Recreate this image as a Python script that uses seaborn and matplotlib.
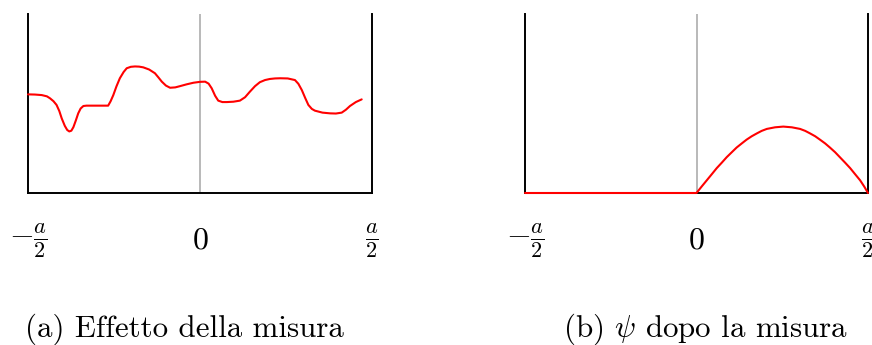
import matplotlib
matplotlib.use("Agg")
import matplotlib.pyplot as plt
import seaborn as sns
import pandas as pd

# Position in units of the box width a (box spans -a/2 .. a/2)
x_before = [-0.500, -0.480, -0.460, -0.445, -0.436, -0.426, -0.417, -0.409, -0.402,
            -0.393, -0.386, -0.380, -0.374, -0.368, -0.361, -0.354, -0.347, -0.339,
            -0.330, -0.267, -0.260, -0.252, -0.243, -0.233, -0.222, -0.213, -0.201,
            -0.189, -0.177, -0.165, -0.148, -0.131, -0.121, -0.111, -0.099, -0.087,
            -0.072, -0.058, -0.039, -0.019, 0.000, 0.015, 0.025, 0.034, 0.044,
            0.053, 0.065, 0.078, 0.097, 0.116, 0.131, 0.145, 0.160, 0.174, 0.189,
            0.203, 0.218, 0.233, 0.255, 0.276, 0.286, 0.296, 0.306, 0.315, 0.325,
            0.334, 0.356, 0.378, 0.395, 0.412, 0.424, 0.436, 0.453, 0.470]
psi_before = [0.551, 0.550, 0.547, 0.540, 0.529, 0.513, 0.492, 0.458, 0.417,
              0.375, 0.352, 0.344, 0.348, 0.368, 0.405, 0.445, 0.472, 0.486,
              0.488, 0.488, 0.512, 0.547, 0.595, 0.641, 0.676, 0.697, 0.705,
              0.707, 0.706, 0.702, 0.690, 0.669, 0.646, 0.622, 0.600, 0.588,
              0.590, 0.597, 0.607, 0.616, 0.621, 0.622, 0.611, 0.585, 0.543,
              0.516, 0.508, 0.508, 0.510, 0.516, 0.535, 0.566, 0.597, 0.619,
              0.631, 0.637, 0.640, 0.641, 0.640, 0.631, 0.610, 0.575, 0.530,
              0.492, 0.470, 0.460, 0.449, 0.445, 0.444, 0.449, 0.465, 0.486,
              0.508, 0.523]

x_after = [-0.500, 0.000, 0.015, 0.030, 0.045, 0.059, 0.074, 0.088, 0.103, 0.117,
           0.132, 0.146, 0.161, 0.176, 0.190, 0.205, 0.229, 0.253, 0.278, 0.302,
           0.317, 0.331, 0.346, 0.360, 0.375, 0.389, 0.404, 0.418, 0.433, 0.448,
           0.462, 0.477, 0.489, 0.500]
psi_after = [0.000, 0.000, 0.036, 0.071, 0.106, 0.139, 0.170, 0.200, 0.228, 0.254,
             0.277, 0.298, 0.317, 0.333, 0.347, 0.358, 0.367, 0.371, 0.367, 0.358,
             0.347, 0.333, 0.317, 0.298, 0.277, 0.254, 0.228, 0.200, 0.170, 0.139,
             0.106, 0.071, 0.036, 0.000]

tick_pos = [-0.5, 0.0, 0.5]
tick_labels = [r"$-\frac{a}{2}$", r"$0$", r"$\frac{a}{2}$"]
captions = ["(a) Effetto della misura", r"(b) $\psi$ dopo la misura"]

sns.set_theme(style="white")
plt.rcParams["mathtext.fontset"] = "cm"
plt.rcParams["axes.unicode_minus"] = False
plt.rcParams["text.color"] = "black"

W, H = 872, 345
fig = plt.figure(figsize=(W / 100, H / 100), dpi=100)

ax_a = fig.add_axes([28 / W, (H - 193) / H, 344 / W, 179 / H])
ax_b = fig.add_axes([525 / W, (H - 193) / H, 343 / W, 179 / H])

frames = [
    pd.DataFrame({"x": x_before, "psi": psi_before}),
    pd.DataFrame({"x": x_after, "psi": psi_after}),
]

for ax, df in zip([ax_a, ax_b], frames):
    ax.set_xlim(-0.5, 0.5)
    ax.set_ylim(0, 1)
    ax.axvline(0, color="#a6a6a6", lw=1.1, zorder=1)
    sns.lineplot(data=df, x="x", y="psi", ax=ax, color="#ff0000", lw=1.5,
                 estimator=None, sort=False, zorder=4, clip_on=False)
    for ln in ax.get_lines()[1:]:
        ln.set_solid_joinstyle("round")
        ln.set_solid_capstyle("round")
    ax.set_xlabel("")
    ax.set_ylabel("")
    ax.set_yticks([])
    ax.set_xticks(tick_pos, labels=tick_labels)
    ax.tick_params(axis="x", length=0, pad=34, labelsize=23, colors="black")
    for lbl in ax.get_xticklabels():
        lbl.set_verticalalignment("center")
    ax.spines["top"].set_visible(False)
    for side in ["left", "right", "bottom"]:
        ax.spines[side].set_visible(True)
        ax.spines[side].set_color("black")
        ax.spines[side].set_linewidth(1.4)
    ax.set_facecolor("none")

fig.text(184 / W, (H - 337) / H, captions[0], ha="center", va="baseline",
         fontsize=22.3, family="cmr10", color="black")
fig.text(706 / W, (H - 337) / H, captions[1], ha="center", va="baseline",
         fontsize=22.3, family="cmr10", color="black")

fig.savefig("out.png", dpi=100, facecolor="white")
